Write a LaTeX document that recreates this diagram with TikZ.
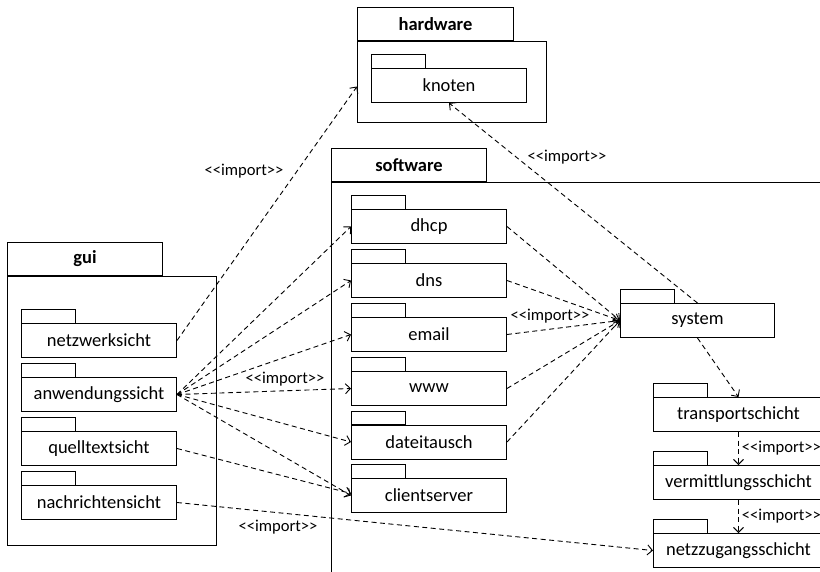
\documentclass[tikz,border=0pt]{standalone}
\usepackage{fontspec}
\setmainfont{Carlito}
\usetikzlibrary{arrows.meta}

\newcommand{\imptext}{<\kern0pt<import>\kern0pt>}

\tikzset{
  pkg/.style={draw,line width=1pt,minimum width=155pt,minimum height=34pt,inner sep=0pt,anchor=north west,font=\fontsize{18.5}{20}\selectfont},
  pkgtitle/.style={draw,line width=1pt,minimum width=155pt,minimum height=33pt,inner sep=0pt,anchor=south west,font=\fontsize{18.5}{20}\selectfont\bfseries},
  frame/.style={draw,line width=1pt,inner sep=0pt,anchor=north west},
  dep/.style={line width=0.9pt,dash pattern=on 5pt off 3.5pt,-{Straight Barb[length=5pt,width=10pt]}},
  lbl/.style={inner sep=0pt,font=\fontsize{16.6}{18}\selectfont}
}

\begin{document}
\begin{tikzpicture}[x=1pt,y=-1pt]
\useasboundingbox (0,0) rectangle (820,571);
\clip (0,0) rectangle (820,571);

% outer packages
\node[frame,minimum width=209pt,minimum height=269pt] (gui) at (7,276) {};
\node[pkgtitle] (guititle) at (gui.north west) {gui};
\node[frame,minimum width=189pt,minimum height=81pt] (hardware) at (357,41) {};
\node[pkgtitle,minimum width=156pt] (hwtitle) at (hardware.north west) {hardware};
\node[frame,minimum width=520pt,minimum height=420pt] (software) at (331,182) {};
\node[pkgtitle] (swtitle) at (software.north west) {software};

% gui
\node[pkg] (netzwerksicht) at (21,323) {netzwerksicht};
\node[pkg] (anwendungssicht) at (21,377) {anwendungssicht};
\node[pkg] (quelltextsicht) at (21,431) {quelltextsicht};
\node[pkg] (nachrichtensicht) at (21,485) {nachrichtensicht};

% hardware
\node[pkg] (knoten) at (371,68) {knoten};

% software
\node[pkg] (dhcp) at (351,209) {dhcp};
\node[pkg] (dns) at (351,263) {dns};
\node[pkg] (email) at (351,317) {email};
\node[pkg] (www) at (351,371) {www};
\node[pkg] (dateitausch) at (351,424.5) {dateitausch};
\node[pkg] (clientserver) at (351,478) {clientserver};
\node[pkg,minimum width=154pt] (system) at (620,303) {system};
\node[pkg,minimum width=170pt] (transportschicht) at (653,397) {transportschicht};
\node[pkg,minimum width=170pt] (vermittlungsschicht) at (653,465) {vermittlungsschicht};
\node[pkg,minimum width=170pt] (netzzugangsschicht) at (653,533) {netzzugangsschicht};

% tabs
\foreach \p in {netzwerksicht,anwendungssicht,quelltextsicht,nachrichtensicht,knoten,
  dhcp,dns,email,www,dateitausch,clientserver,system,transportschicht,
  vermittlungsschicht,netzzugangsschicht}
  \draw[line width=1pt] (\p.north west) rectangle ++(54,-13.5);

% imports
\draw[dep] (netzwerksicht.east) -- ([yshift=-4.5pt]hardware.west);
\foreach \p in {dhcp,dns,email,www,dateitausch,clientserver}
  \draw[dep] (anwendungssicht.east) -- (\p.west);
\draw[dep] (quelltextsicht.east) -- ([yshift=2pt]clientserver.west);
\draw[dep] (nachrichtensicht.east) -- (netzzugangsschicht.west);
\foreach \p in {dhcp,dns,email,www,dateitausch}
  \draw[dep] (\p.east) -- (system.west);
\draw[dep] (system.north) -- (knoten.south);
\draw[dep] (system.south) -- (transportschicht.north);
\draw[dep] (transportschicht.south) -- (vermittlungsschicht.north)
  node[lbl,midway,right=3pt] (impverm) {\imptext};
\draw[dep] (vermittlungsschicht.south) -- (netzzugangsschicht.north)
  node[lbl,midway,right=3pt] (impnetz) {\imptext};

% labels
\node[lbl] (imphw) at (244,171) {\imptext};
\node[lbl] (impknoten) at (567,157) {\imptext};
\node[lbl] (impanw) at (285,379) {\imptext};
\node[lbl] (impsys) at (550,316) {\imptext};
\node[lbl] (impnachr) at (278,527) {\imptext};
\end{tikzpicture}
\end{document}
